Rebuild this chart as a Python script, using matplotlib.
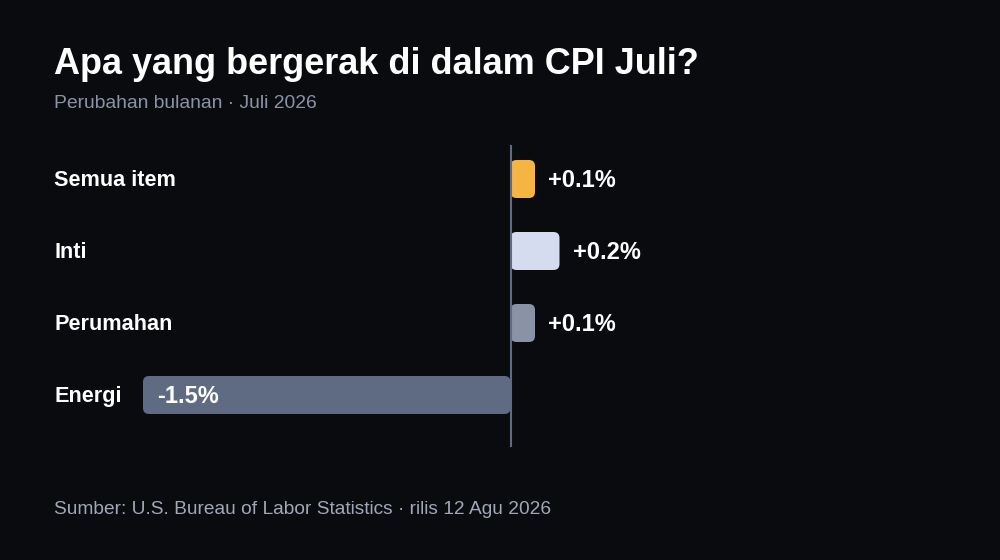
import matplotlib
matplotlib.use("Agg")
import matplotlib.pyplot as plt
from matplotlib.patches import FancyBboxPatch

plt.rcParams['font.family'] = ['Liberation Sans', 'DejaVu Sans']

categories = ["Semua item", "Inti", "Perumahan", "Energi"]
values = [0.1, 0.2, 0.1, -1.5]
value_labels = ["+0.1%", "+0.2%", "+0.1%", "-1.5%"]
colors = ["#F5B544", "#D5DCF0", "#8A93A6", "#5F6B82"]

BG = "#0A0B0F"
W, H = 1000, 560
fig = plt.figure(figsize=(W / 100, H / 100), dpi=100, facecolor=BG)

# axes in pixel coordinates
left_px, right_px = 54, 950
top_px, bot_px = 145, 447
ax = fig.add_axes([left_px / W, 1 - bot_px / H, (right_px - left_px) / W, (bot_px - top_px) / H])
ax.set_facecolor(BG)
ppu_x = 245.0  # pixels per unit
zero_px = 510.5
ax.set_xlim((left_px - zero_px) / ppu_x, (right_px - zero_px) / ppu_x)
ppu_y = 72.0
ax.set_ylim(3 + (bot_px - 395) / ppu_y, -(179 - top_px) / ppu_y)
ax.axis("off")

bar_h = 38 / ppu_y
r_px = 6
bars = ax.barh(range(len(categories)), values, height=bar_h, color=colors)
for b, c in zip(bars, colors):
    x, y, w, h = b.get_x(), b.get_y(), b.get_width(), b.get_height()
    b.set_visible(False)
    x0 = min(x, x + w)
    p = FancyBboxPatch((x0, y), abs(w), h,
                       boxstyle=f"round,pad=0,rounding_size={r_px / ppu_x}",
                       mutation_aspect=ppu_x / ppu_y, facecolor=c, edgecolor="none", zorder=2)
    ax.add_patch(p)

ax.axvline(0, color="#5F6B82", lw=1.5, zorder=3)

for i, (cat, v, lab) in enumerate(zip(categories, values, value_labels)):
    ax.text(0, i + 7 / ppu_y, cat, transform=ax.get_yaxis_transform(), ha="left", va="baseline",
            color="white", fontsize=15.6, fontweight="bold")
    off = 13 if v >= 0 else 14
    ax.text(v + off / ppu_x, i + 8 / ppu_y, lab, ha="left", va="baseline", color="white",
            fontsize=17, fontweight="bold", zorder=4)

fig.text(54 / W, 1 - 73.5 / H, "Apa yang bergerak di dalam CPI Juli?", ha="left", va="baseline",
         color="white", fontsize=25.9, fontweight="bold")
fig.text(54 / W, 1 - 108.3 / H, "Perubahan bulanan · Juli 2026", ha="left", va="baseline",
         color="#8A93A6", fontsize=13.9)
fig.text(54 / W, 1 - 514 / H, "Sumber: U.S. Bureau of Labor Statistics · rilis 12 Agu 2026",
         ha="left", va="baseline", color="#A0A8B8", fontsize=13.8)

fig.savefig("out.png", dpi=100, facecolor=BG)
